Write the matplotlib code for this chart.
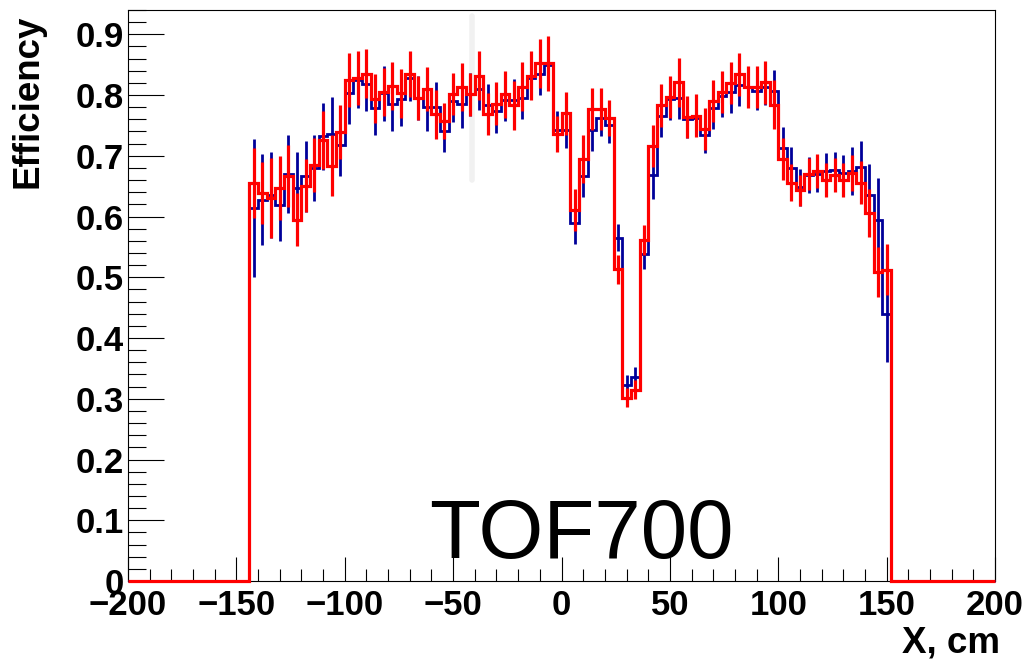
import numpy as np
import matplotlib
matplotlib.use("Agg")
import matplotlib.pyplot as plt
from matplotlib import font_manager
from matplotlib.ticker import MultipleLocator, FuncFormatter

# ---------------- data ----------------
bin_lo, bin_hi, n_bins = -200.0, 200.0, 100       # histogram axis
first_filled_bin = 14                              # first non-empty bin (x = -144 cm)
n_trailing_empty = 12

red_vals = [0.655, 0.638, 0.630, 0.647, 0.667, 0.595, 0.651, 0.685, 0.726, 0.684,
            0.739, 0.825, 0.828, 0.835, 0.794, 0.805, 0.815, 0.803, 0.834, 0.795,
            0.810, 0.768, 0.757, 0.802, 0.813, 0.801, 0.832, 0.769, 0.786, 0.801,
            0.783, 0.814, 0.832, 0.852, 0.852, 0.736, 0.770, 0.611, 0.695, 0.777,
            0.777, 0.762, 0.513, 0.302, 0.315, 0.561, 0.716, 0.783, 0.797, 0.821,
            0.764, 0.766, 0.744, 0.790, 0.805, 0.820, 0.834, 0.813, 0.813, 0.821,
            0.784, 0.695, 0.656, 0.643, 0.670, 0.675, 0.660, 0.668, 0.660, 0.672,
            0.656, 0.606, 0.509, 0.512]
red_errs = [0.057, 0.051, 0.066, 0.053, 0.051, 0.044, 0.043, 0.045, 0.048, 0.050,
            0.045, 0.045, 0.045, 0.040, 0.040, 0.040, 0.040, 0.040, 0.038, 0.036,
            0.036, 0.040, 0.030, 0.035, 0.040, 0.035, 0.040, 0.035, 0.035, 0.038,
            0.040, 0.040, 0.040, 0.040, 0.045, 0.030, 0.035, 0.035, 0.040, 0.035,
            0.035, 0.030, 0.024, 0.016, 0.016, 0.025, 0.035, 0.035, 0.035, 0.040,
            0.035, 0.035, 0.035, 0.035, 0.035, 0.035, 0.035, 0.035, 0.035, 0.035,
            0.040, 0.035, 0.030, 0.025, 0.026, 0.028, 0.028, 0.028, 0.028, 0.030,
            0.035, 0.040, 0.041, 0.042]

blue_vals = [0.614, 0.628, 0.636, 0.619, 0.670, 0.647, 0.666, 0.680, 0.732, 0.736,
             0.717, 0.803, 0.824, 0.819, 0.779, 0.803, 0.785, 0.794, 0.828, 0.795,
             0.781, 0.780, 0.740, 0.790, 0.786, 0.801, 0.810, 0.783, 0.773, 0.792,
             0.792, 0.795, 0.828, 0.835, 0.850, 0.743, 0.743, 0.590, 0.667, 0.743,
             0.762, 0.751, 0.565, 0.323, 0.336, 0.539, 0.669, 0.766, 0.794, 0.795,
             0.760, 0.762, 0.735, 0.779, 0.799, 0.805, 0.817, 0.813, 0.806, 0.813,
             0.806, 0.712, 0.680, 0.648, 0.668, 0.670, 0.675, 0.677, 0.671, 0.675,
             0.682, 0.636, 0.594, 0.440]
blue_errs = [0.114, 0.075, 0.071, 0.060, 0.065, 0.060, 0.058, 0.055, 0.055, 0.060,
             0.050, 0.050, 0.045, 0.045, 0.045, 0.045, 0.045, 0.045, 0.038, 0.036,
             0.040, 0.041, 0.033, 0.035, 0.040, 0.035, 0.035, 0.035, 0.035, 0.035,
             0.035, 0.035, 0.035, 0.035, 0.035, 0.030, 0.030, 0.035, 0.035, 0.035,
             0.030, 0.030, 0.022, 0.016, 0.016, 0.025, 0.040, 0.035, 0.035, 0.035,
             0.030, 0.030, 0.030, 0.035, 0.035, 0.035, 0.035, 0.030, 0.030, 0.030,
             0.035, 0.035, 0.035, 0.030, 0.030, 0.030, 0.030, 0.030, 0.030, 0.040,
             0.042, 0.050, 0.070, 0.080]

x_ticks = [-200, -150, -100, -50, 0, 50, 100, 150, 200]
y_ticks = [0, 0.1, 0.2, 0.3, 0.4, 0.5, 0.6, 0.7, 0.8, 0.9]
label_text = "TOF700"
x_title = "X, cm"
y_title = "Efficiency"

# ---------------- fonts ----------------
avail = {f.name for f in font_manager.fontManager.ttflist}
if "Liberation Sans Narrow" in avail:
    axfont, tick_fs, title_fs = "Liberation Sans Narrow", 28, 30
else:
    axfont, tick_fs, title_fs = "Liberation Sans", 25, 26.5

# ---------------- figure ----------------
W, H = 1030, 661
fig = plt.figure(figsize=(W / 100, H / 100), dpi=100)
ax = fig.add_axes([128 / W, 1 - 581 / H, (995 - 128) / W, (581 - 10) / H])

edges = np.linspace(bin_lo, bin_hi, n_bins + 1)
centers = 0.5 * (edges[:-1] + edges[1:])


def full(vals):
    return np.array([0.0] * first_filled_bin + list(vals) + [0.0] * n_trailing_empty)


blue_full = full(blue_vals)
red_full = full(red_vals)
blue_e = full(blue_errs)
red_e = full(red_errs)

BLUE = "#000099"
RED = "#ff0000"

# faint smudge seen in the reference
ax.plot([-41.3, -41.3], [0.66, 0.93], color="#f1f1f1", lw=4, zorder=1, solid_capstyle="round")

for vals, errs, col, lw in [(blue_full, blue_e, BLUE, 2.0), (red_full, red_e, RED, 2.3)]:
    ax.stairs(vals, edges, baseline=None, color=col, lw=lw, zorder=3, clip_on=False)
    m = vals > 0
    ax.vlines(centers[m], vals[m] - errs[m], vals[m] + errs[m], color=col, lw=lw, zorder=3)

ax.set_xlim(bin_lo, bin_hi)
ax.set_ylim(0, 0.94)

ax.set_xticks(x_ticks)
ax.set_yticks(y_ticks)
ax.xaxis.set_minor_locator(MultipleLocator(10))
ax.yaxis.set_minor_locator(MultipleLocator(0.02))
ax.yaxis.set_major_formatter(FuncFormatter(lambda v, p: "0" if abs(v) < 1e-9 else f"{v:.1f}"))
ax.xaxis.set_major_formatter(FuncFormatter(lambda v, p: f"{int(round(v))}".replace("-", "\u2212")))

ax.tick_params(axis="both", which="both", direction="in", top=False, right=False, width=0.8, color="black")
ax.tick_params(axis="x", which="major", length=17, pad=6)
ax.tick_params(axis="x", which="minor", length=9)
ax.tick_params(axis="y", which="major", length=26, pad=3)
ax.tick_params(axis="y", which="minor", length=13)

for lab in ax.get_xticklabels() + ax.get_yticklabels():
    lab.set_fontfamily(axfont)
    lab.set_fontweight("bold")
    lab.set_fontsize(tick_fs)

for s in ax.spines.values():
    s.set_linewidth(0.8)

fig.text(28 / W, 1 - 14 / H, y_title, rotation=90, ha="center", va="top",
         fontfamily=axfont, fontweight="bold", fontsize=title_fs)
fig.text(1000 / W, 1 - 643 / H, x_title, ha="right", va="center",
         fontfamily=axfont, fontweight="bold", fontsize=title_fs)

ax.text(9, 0.038, label_text, ha="center", va="baseline", fontsize=60,
        fontfamily="Liberation Sans", color="black", zorder=4)

fig.savefig("out.png", dpi=100)
